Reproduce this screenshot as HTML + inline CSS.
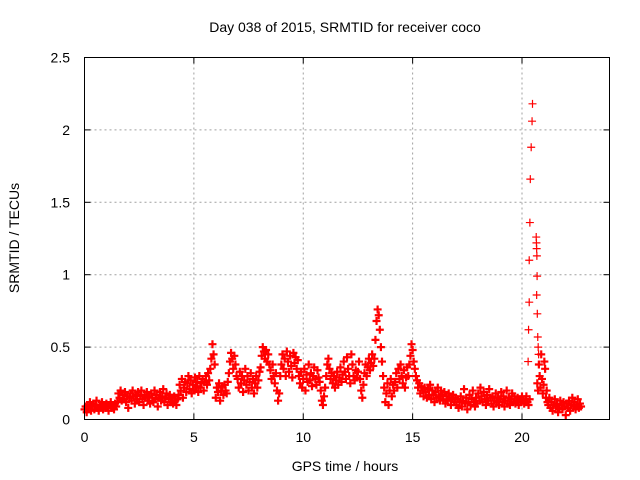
<!DOCTYPE html>
<html><head><meta charset="utf-8"><style>
body{margin:0;background:#fff}
svg{display:block;font-family:"Liberation Sans",sans-serif}
</style></head><body>
<svg id="chart" width="640" height="480">
<text x="345" y="32" text-anchor="middle" font-size="14">Day 038 of 2015, SRMTID for receiver coco</text>
<text x="345" y="471" text-anchor="middle" font-size="14">GPS time / hours</text>
<text transform="translate(19,238) rotate(-90)" text-anchor="middle" font-size="14">SRMTID / TECUs</text>
<g id="grid"></g>
<g id="ticks"></g>
<g id="points"></g>
<rect x="84.5" y="57.5" width="525" height="362" fill="none" stroke="#000" stroke-width="1"/>
</svg>
<script>
const xTicks=[0,5,10,15,20];
const yTicks=[0,0.5,1,1.5,2,2.5];
const yTickLabels=["0","0.5","1","1.5","2","2.5"];
const segStarts=[0,1.5,4.3,5.8,6.0,6.6,7.0,8.1,8.5,9.0,9.8,10.8,11.2,12.5,13.3,13.7,14.2,14.9,15.2,17.0,20.2,20.7,21.2];
const segEnds=[1.5,4.3,5.8,6.0,6.6,7.0,8.1,8.5,9.0,9.8,10.8,11.2,12.5,13.3,13.7,14.2,14.9,15.2,17.0,20.2,20.4,21.2,22.75];
const segVals=[
[0.07,0.09,0.05,0.1,0.08,0.12,0.06,0.09,0.11,0.07,0.1,0.13,0.08,0.06,0.1,0.09,0.12,0.07,0.1,0.08,0.11,0.09,0.06,0.1,0.12,0.08,0.1,0.07,0.11,0.09],
[0.12,0.18,0.15,0.2,0.13,0.17,0.14,0.19,0.12,0.16,0.08,0.15,0.18,0.13,0.2,0.16,0.11,0.17,0.14,0.19,0.12,0.16,0.2,0.14,0.1,0.17,0.15,0.19,0.13,0.16,0.11,0.18,0.15,0.12,0.2,0.14,0.17,0.09,0.15,0.19,0.13,0.16,0.21,0.12,0.15,0.18,0.1,0.14,0.17,0.12,0.15,0.11,0.16,0.13,0.1,0.14],
[0.17,0.24,0.2,0.28,0.15,0.22,0.26,0.19,0.25,0.3,0.21,0.27,0.18,0.24,0.2,0.29,0.23,0.26,0.19,0.3,0.22,0.25,0.28,0.2,0.26,0.3,0.24,0.32,0.27,0.35],
[0.42,0.52,0.45,0.38],
[0.15,0.22,0.19,0.25,0.13,0.2,0.23,0.17,0.24,0.2,0.18,0.26],
[0.32,0.4,0.46,0.42,0.35,0.44,0.38,0.3],
[0.28,0.22,0.33,0.25,0.3,0.19,0.27,0.35,0.24,0.3,0.2,0.26,0.32,0.22,0.28,0.18,0.25,0.3,0.22,0.27,0.33,0.36],
[0.44,0.5,0.47,0.42,0.48,0.4,0.45,0.38],
[0.34,0.28,0.38,0.3,0.25,0.32,0.2,0.13,0.18,0.3],
[0.38,0.45,0.35,0.42,0.3,0.47,0.4,0.33,0.44,0.37,0.29,0.46,0.39,0.43,0.35,0.41],
[0.3,0.25,0.33,0.22,0.28,0.35,0.2,0.31,0.26,0.38,0.27,0.32,0.23,0.3,0.36,0.28,0.24,0.34,0.29,0.26],
[0.2,0.13,0.1,0.16,0.22,0.3,0.38,0.42],
[0.35,0.28,0.32,0.25,0.3,0.22,0.27,0.33,0.24,0.29,0.36,0.26,0.31,0.4,0.33,0.28,0.43,0.35,0.3,0.25,0.45,0.38,0.3,0.27,0.34,0.29],
[0.33,0.4,0.28,0.2,0.15,0.24,0.32,0.38,0.3,0.36,0.42,0.34,0.39,0.45,0.37,0.42],
[0.55,0.68,0.76,0.72,0.62,0.5,0.4,0.3],
[0.22,0.12,0.18,0.25,0.1,0.2,0.28,0.16,0.24,0.2],
[0.26,0.32,0.22,0.35,0.28,0.38,0.3,0.25,0.34,0.22,0.29,0.36,0.3,0.38],
[0.44,0.52,0.48,0.4,0.35,0.3],
[0.27,0.22,0.25,0.18,0.23,0.2,0.16,0.22,0.19,0.15,0.21,0.17,0.24,0.14,0.2,0.17,0.12,0.19,0.15,0.22,0.16,0.13,0.2,0.17,0.14,0.19,0.11,0.16,0.13,0.18,0.15,0.1,0.14,0.17,0.12,0.15],
[0.1,0.14,0.08,0.12,0.16,0.09,0.13,0.21,0.11,0.15,0.07,0.12,0.17,0.1,0.14,0.2,0.12,0.09,0.15,0.11,0.18,0.13,0.22,0.16,0.12,0.19,0.14,0.1,0.17,0.13,0.21,0.15,0.11,0.16,0.09,0.13,0.18,0.12,0.15,0.1,0.14,0.19,0.12,0.16,0.09,0.13,0.2,0.11,0.15,0.1,0.14,0.18,0.12,0.16,0.11,0.13,0.15,0.1,0.14,0.12,0.16,0.13,0.11,0.14],
[0.16,0.12,0.1,0.14],
[0.25,0.2,0.38,0.3,0.22,0.45,0.28,0.18,0.24,0.4,0.35,0.15,0.2,0.12],
[0.1,0.15,0.08,0.12,0.06,0.1,0.14,0.09,0.11,0.05,0.08,0.13,0.1,0.07,0.12,0.09,0.03,0.11,0.08,0.13,0.06,0.1,0.15,0.09,0.12,0.07,0.1,0.14,0.08,0.11,0.09]
];
const spikeT=[20.28,20.3,20.33,20.33,20.36,20.38,20.42,20.46,20.48,20.65,20.66,20.67,20.68,20.69,20.67,20.7,20.72,20.74,20.76];
const spikeV=[0.4,0.62,0.81,1.1,1.36,1.66,1.88,2.06,2.18,1.26,1.22,1.18,1.13,0.99,0.86,0.73,0.57,0.5,0.45];

const NS="http://www.w3.org/2000/svg";
const X0=84.5,X1=609.5,Y0=419.5,Y1=57.5,XMAX=24,YMAX=2.5;
function sx(v){return X0+(X1-X0)*v/XMAX;}
function sy(v){return Y0-(Y0-Y1)*v/YMAX;}
function mk(tag,attrs,parent){const e=document.createElementNS(NS,tag);for(const k in attrs)e.setAttribute(k,attrs[k]);parent.appendChild(e);return e;}
const grid=document.getElementById('grid'),ticks=document.getElementById('ticks'),pts=document.getElementById('points');
xTicks.forEach(v=>{
  const x=sx(v);
  if(v>0){const g=mk('line',{x1:x,x2:x,y1:Y1,y2:Y0,stroke:'#a0a0a0','stroke-dasharray':'2,3'},grid);
  
  }
  mk('line',{x1:x,x2:x,y1:Y0,y2:Y0-6,stroke:'#000'},ticks);
  mk('line',{x1:x,x2:x,y1:Y1,y2:Y1+6,stroke:'#000'},ticks);
  const t=mk('text',{x:x,y:442,'text-anchor':'middle','font-size':'14'},ticks);
  t.textContent=String(v);
  
  
});
yTicks.forEach((v,i)=>{
  const y=sy(v);
  if(v>0&&v<YMAX){const g=mk('line',{x1:X0,x2:X1,y1:y,y2:y,stroke:'#a0a0a0','stroke-dasharray':'2,3'},grid);
  
  }
  mk('line',{x1:X0,x2:X0+6,y1:y,y2:y,stroke:'#000'},ticks);
  mk('line',{x1:X1,x2:X1-6,y1:y,y2:y,stroke:'#000'},ticks);
  const t=mk('text',{x:70,y:y+5,'text-anchor':'end','font-size':'14'},ticks);
  t.textContent=yTickLabels[i];
  
  
});
function plus(t,v,w){
  const x=sx(t),y=sy(v);
  const p=mk('path',{d:`M${x-4},${y}H${x+4}M${x},${y-4}V${y+4}`,stroke:'#f00','stroke-width':w,fill:'none'},pts);
  
  
}
segVals.forEach((vals,s)=>{
  const st=(segEnds[s]-segStarts[s])/vals.length;
  vals.forEach((v,i)=>plus(segStarts[s]+i*st,v,2.2));
});
spikeT.forEach((t,i)=>plus(t,spikeV[i],1.2));
</script>
</body></html>
